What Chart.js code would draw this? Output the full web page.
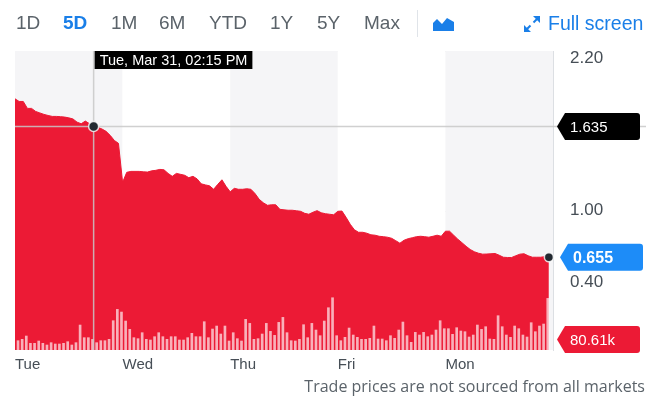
<!DOCTYPE html>
<html>
<head>
<meta charset="utf-8">
<script src="https://cdn.jsdelivr.net/npm/chart.js@4.4.1/dist/chart.umd.min.js"></script>
<style>
  body { margin: 0; background: #fff; font-family: "Liberation Sans", Arial, sans-serif; }
  #wrap { position: relative; width: 654px; height: 419px; overflow: hidden; }
  #myChart { position: absolute; left: 0; top: 0; }
  .rng { position: absolute; top: 12px; font-size: 19px; line-height: 22px; color: #5b636a; }
  .rng.on { color: #1a7fe8; font-weight: bold; }
  #sep { position: absolute; left: 417px; top: 10px; width: 1px; height: 27px; background: #e0e4e9; }
  #icon { position: absolute; left: 433px; top: 17px; }
  #fs { position: absolute; left: 524px; top: 12px; font-size: 19.5px; line-height: 22px; color: #1a7fe8; }
  #fs svg { vertical-align: -2px; margin-right: 8px; }
  #note { position: absolute; right: 9px; top: 375px; font-family: "Open Sans", sans-serif; font-size: 16px; color: #5b636a; }
</style>
</head>
<body>
<div id="wrap">
  <canvas id="myChart" width="654" height="419"></canvas>
  <span class="rng" style="left:16px">1D</span>
  <span class="rng on" style="left:63px">5D</span>
  <span class="rng" style="left:111px">1M</span>
  <span class="rng" style="left:159px">6M</span>
  <span class="rng" style="left:209px">YTD</span>
  <span class="rng" style="left:270px">1Y</span>
  <span class="rng" style="left:317px">5Y</span>
  <span class="rng" style="left:364px">Max</span>
  <div id="sep"></div>
  <svg id="icon" width="21" height="14" viewBox="0 0 21 14"><path d="M0 14V6L4 2L9 7L14 1L21 5V14Z" fill="#1a7fe8"/></svg>
  <span id="fs"><svg width="16" height="16" viewBox="0 0 16 16"><path d="M9 0H16V7Z M0 9V16H7Z" fill="#1a7fe8"/><path d="M13.5 2.5L9.5 6.5 M2.5 13.5L6.5 9.5" stroke="#1a7fe8" stroke-width="2"/></svg>Full screen</span>
  <div id="note">Trade prices are not sourced from all markets</div>
</div>
<script>
// 15 minute points, 26 per trading day
var dayLabels = ["Tue", "Wed", "Thu", "Fri", "Mon"];
var dayStarts = [0, 26, 52, 78, 104];
var priceTicks = [2.2, 1.0, 0.4];

var price = [
  1.842, 1.822, 1.822, 1.770, 1.770, 1.747, 1.736, 1.725, 1.717, 1.710,
  1.710, 1.708, 1.705, 1.699, 1.691, 1.667, 1.655, 1.675, 1.655, 1.635,
  1.628, 1.616, 1.598, 1.568, 1.530, 1.508, 1.216, 1.291, 1.298, 1.298,
  1.298, 1.295, 1.293, 1.302, 1.306, 1.313, 1.310, 1.283, 1.261, 1.283,
  1.276, 1.269, 1.251, 1.261, 1.242, 1.205, 1.197, 1.190, 1.164, 1.201,
  1.235, 1.186, 1.145, 1.171, 1.164, 1.164, 1.168, 1.164, 1.132, 1.089,
  1.063, 1.044, 1.048, 1.048, 1.014, 1.010, 1.007, 1.007, 1.003, 0.999,
  0.984, 0.977, 0.992, 1.004, 0.988, 0.981, 0.977, 0.973, 0.999, 1.001,
  0.954, 0.902, 0.861, 0.842, 0.842, 0.835, 0.823, 0.820, 0.812, 0.809,
  0.805, 0.797, 0.779, 0.760, 0.782, 0.794, 0.801, 0.809, 0.812, 0.809,
  0.805, 0.812, 0.820, 0.812, 0.850, 0.850, 0.820, 0.790, 0.764, 0.737,
  0.713, 0.696, 0.685, 0.678, 0.679, 0.681, 0.683, 0.670, 0.655, 0.653,
  0.653, 0.666, 0.678, 0.681, 0.666, 0.655, 0.655, 0.655, 0.659, 0.655
];

var volume = [
  70900, 81100, 106400, 50700, 50700, 68400, 50700, 38000, 55700, 45600,
  45600, 50700, 63300, 38000, 55700, 190000, 93700, 93700, 80610, 55700,
  70900, 70900, 81100, 222900, 309000, 288800, 220400, 157000, 93700, 86100,
  131700, 81100, 76000, 101300, 131700, 101300, 81100, 101300, 101300, 76000,
  76000, 93700, 126700, 101300, 101300, 215300, 93700, 159600, 182400, 121600,
  182400, 68400, 131700, 86100, 68400, 233000, 202600, 81100, 86100, 121600,
  202600, 141800, 111400, 210200, 248200, 131700, 70900, 68400, 81100, 192500,
  93700, 202600, 152000, 108900, 220400, 321700, 397600, 108900, 70900, 96200,
  167200, 114000, 96200, 81100, 81100, 88600, 182400, 83600, 83600, 70900,
  108900, 88600, 152000, 212800, 108900, 58300, 134200, 114000, 134200, 101300,
  114000, 152000, 222900, 162100, 162100, 119100, 169700, 144400, 139300, 98800,
  114000, 190000, 157000, 177300, 83600, 81100, 260900, 177300, 114000, 96200,
  182400, 162100, 114000, 98800, 207700, 139300, 182400, 197600, 392600
];

var hoverLabel = "Tue, Mar 31, 02:15 PM";
var hoverPrice = 19;
var hoverVol = 18;
var barShift = 0.73;

var red = "#ec1a35";
var font = '"Liberation Sans", Arial, sans-serif';

// grey / white day bands behind the area
var bandsPlugin = {
  id: "bands",
  beforeDatasetsDraw: function (chart) {
    var ctx = chart.ctx, a = chart.chartArea, x = chart.scales.x;
    ctx.save();
    for (var n = 0; n < dayStarts.length; n++) {
      var x0 = x.getPixelForValue(dayStarts[n]);
      var x1 = n + 1 < dayStarts.length ? x.getPixelForValue(dayStarts[n + 1]) : a.right;
      ctx.fillStyle = n % 2 === 0 ? "#f5f5f7" : "#ffffff";
      ctx.fillRect(x0, a.top, x1 - x0, a.bottom - a.top);
    }
    ctx.restore();
  }
};

function flag(ctx, left, yc, color, text, fnt) {
  var h = 27, r = 3, body = left + 8, right = left + 83;
  ctx.fillStyle = color;
  ctx.beginPath();
  ctx.moveTo(left, yc);
  ctx.lineTo(body, yc - h / 2);
  ctx.lineTo(right - r, yc - h / 2);
  ctx.quadraticCurveTo(right, yc - h / 2, right, yc - h / 2 + r);
  ctx.lineTo(right, yc + h / 2 - r);
  ctx.quadraticCurveTo(right, yc + h / 2, right - r, yc + h / 2);
  ctx.lineTo(body, yc + h / 2);
  ctx.closePath();
  ctx.fill();
  ctx.fillStyle = "#fff";
  ctx.font = fnt;
  ctx.textAlign = "left";
  ctx.textBaseline = "middle";
  ctx.fillText(text, left + 13, yc + 1);
}

function dot(ctx, x, y, r) {
  ctx.beginPath();
  ctx.arc(x, y, r, 0, Math.PI * 2);
  ctx.fillStyle = "#232a31";
  ctx.fill();
  ctx.lineWidth = 1.5;
  ctx.strokeStyle = "rgba(255,255,255,0.8)";
  ctx.stroke();
}

// crosshair, price/volume flags, tick labels
var overlayPlugin = {
  id: "overlay",
  afterDraw: function (chart) {
    var ctx = chart.ctx, a = chart.chartArea;
    var x = chart.scales.x, y = chart.scales.y, yv = chart.scales.vol;
    ctx.save();

    // y tick labels
    var tickNudge = [7, -1, -9];
    ctx.font = "17px " + font;
    ctx.fillStyle = "#464e56";
    ctx.textAlign = "left";
    ctx.textBaseline = "middle";
    priceTicks.forEach(function (v, i) {
      ctx.fillText(v.toFixed(2), a.right + 17, y.getPixelForValue(v) + tickNudge[i]);
    });

    var hx = x.getPixelForValue(hoverPrice);
    var hy = y.getPixelForValue(price[hoverPrice]);
    ctx.strokeStyle = "rgba(200,200,200,0.85)";
    ctx.lineWidth = 1.5;
    ctx.beginPath();
    ctx.moveTo(hx, a.top);
    ctx.lineTo(hx, a.bottom);
    ctx.moveTo(a.left, hy);
    ctx.lineTo(chart.width - 8, hy);
    ctx.stroke();

    // date box
    ctx.font = "14.5px " + font;
    var tw = ctx.measureText(hoverLabel).width;
    ctx.fillStyle = "#000";
    ctx.fillRect(hx + 1, a.top, tw + 10, 18);
    ctx.fillStyle = "#fff";
    ctx.fillText(hoverLabel, hx + 6, a.top + 9.5);

    var last = price.length - 1;
    var lx = x.getPixelForValue(last), ly = y.getPixelForValue(price[last]);
    dot(ctx, hx, hy, 5);
    dot(ctx, lx, ly, 4.5);

    flag(ctx, a.right + 4, hy, "#000", price[hoverPrice].toFixed(3), "15px " + font);
    flag(ctx, a.right + 7, ly, "#1d8cf8", price[last].toFixed(3), "bold 16px " + font);
    var vy = yv.getPixelForValue(volume[hoverVol]);
    flag(ctx, a.right + 4, vy, red, (volume[hoverVol] / 1000).toFixed(2) + "k", "15px " + font);
    ctx.restore();
  }
};

var ctx = document.getElementById("myChart").getContext("2d");
var myChart = new Chart(ctx, {
  type: "line",
  data: {
    datasets: [
      {
        type: "bar",
        data: volume.map(function (v, i) { return { x: i + barShift, y: v }; }),
        yAxisID: "vol",
        backgroundColor: "rgba(255,255,255,0.66)",
        barThickness: 2,
        order: 0
      },
      {
        data: price.map(function (v, i) { return { x: i, y: v }; }),
        yAxisID: "y",
        borderColor: red,
        borderWidth: 1,
        backgroundColor: red,
        fill: "start",
        pointRadius: 0,
        tension: 0,
        order: 1
      }
    ]
  },
  options: {
    responsive: false,
    animation: false,
    events: [],
    layout: { padding: { left: 15, top: 51, right: 0, bottom: 0 } },
    plugins: { legend: { display: false }, tooltip: { enabled: false } },
    scales: {
      x: {
        type: "linear",
        min: 0,
        max: 130,
        offset: false,
        afterBuildTicks: function (scale) {
          scale.ticks = dayStarts.map(function (v) { return { value: v }; });
        },
        afterFit: function (scale) { scale.height = 69; },
        ticks: {
          callback: function (v, i) { return dayLabels[i]; },
          align: "start",
          maxRotation: 0,
          autoSkip: false,
          padding: 6,
          color: "#464e56",
          font: { family: font, size: 15 }
        },
        grid: { display: false, drawTicks: false },
        border: { display: false }
      },
      y: {
        position: "right",
        min: -0.04,
        max: 2.2,
        z: 1,
        afterBuildTicks: function (scale) {
          scale.ticks = priceTicks.map(function (v) { return { value: v }; });
        },
        afterFit: function (scale) { scale.width = 101; },
        ticks: { display: false },
        grid: { color: "rgba(0,0,0,0.08)", drawTicks: false },
        border: { display: true, color: "#dcdfe3" }
      },
      vol: {
        display: false,
        min: 0,
        max: 2275000
      }
    }
  },
  plugins: [bandsPlugin, overlayPlugin]
});
</script>
</body>
</html>
